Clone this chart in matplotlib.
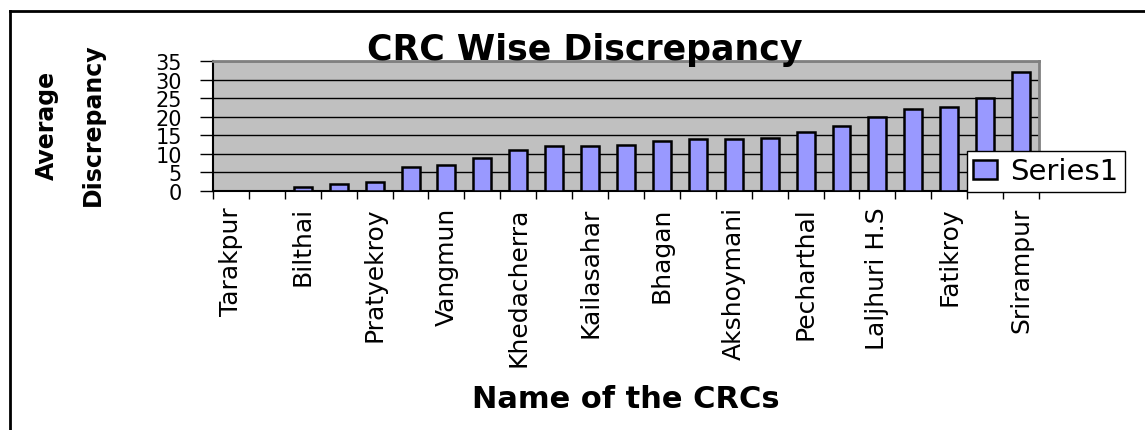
import matplotlib
matplotlib.use('Agg')
import matplotlib.pyplot as plt
from matplotlib.lines import Line2D
import numpy as np

# CRC names as printed under the bars (only every other category is labelled)
crc_labels = ['Tarakpur', 'Bilthai', 'Pratyekroy', 'Vangmun', 'Khedacherra',
              'Kailasahar', 'Bhagan', 'Akshoymani', 'Pecharthal', 'Laljhuri H.S',
              'Fatikroy', 'Srirampur']
# average discrepancy for all 23 CRCs
discrepancy = [0, 0, 1, 2, 2.5, 6.5, 7, 9, 11, 12, 12, 12.4,
               13.5, 14, 14, 14.4, 16, 17.4, 20, 22, 22.5, 25, 32]
yticks = [0, 5, 10, 15, 20, 25, 30, 35]

plt.rcParams['font.family'] = ['DejaVu Sans']

W, H = 1145, 431
fig = plt.figure(figsize=(W / 100, H / 100), dpi=100)
fig.patch.set_facecolor('white')

ax = fig.add_axes([213 / W, 1 - 192 / H, (1039 - 213) / W, (192 - 62) / H])
ax.set_facecolor('#c0c0c0')

x = np.arange(len(discrepancy))
ax.bar(x, discrepancy, width=0.5, color='#9999ff', edgecolor='black',
       linewidth=1.8, label='Series1', zorder=3)

ax.set_xlim(-0.5, len(discrepancy) - 0.5)
ax.set_ylim(0, 35)
ax.set_yticks(yticks)
ax.set_yticklabels([str(v) for v in yticks], fontsize=15)
ax.set_xticks(x[::2])
ax.set_xticklabels(crc_labels, rotation=90, fontsize=18)
ax.set_xticks(np.arange(-0.5, len(discrepancy)), minor=True)

ax.tick_params(axis='x', which='major', length=0, pad=11)
ax.tick_params(axis='x', which='minor', length=6, width=1, direction='out')
ax.tick_params(axis='y', length=9.5, width=1, direction='out', pad=13)

ax.yaxis.grid(True, color='black', linewidth=1)
ax.set_axisbelow(True)

for s in ['left', 'bottom']:
    ax.spines[s].set_color('black')
    ax.spines[s].set_linewidth(1.5)
for s in ['top', 'right']:
    ax.spines[s].set_color('#808080')
    ax.spines[s].set_linewidth(2)

fig.text(585 / W, 1 - 50 / H, 'CRC Wise Discrepancy', fontsize=25,
         fontweight='bold', ha='center', va='center')
fig.text(626 / W, 1 - 400 / H, 'Name of the CRCs', fontsize=22,
         fontweight='bold', ha='center', va='center')
fig.text(70 / W, 1 - 125 / H, 'Average\nDiscrepancy', fontsize=17,
         fontweight='bold', rotation=90, ha='center', va='center',
         multialignment='center', linespacing=2.15)

leg = ax.legend(loc='upper left', bbox_to_anchor=(967 / W, 1 - 152 / H),
                bbox_transform=fig.transFigure, fontsize=21, frameon=True,
                fancybox=False, edgecolor='black', framealpha=1,
                borderpad=0.22, borderaxespad=0, handlelength=0.82,
                handleheight=0.62, handletextpad=0.45)
leg.get_frame().set_linewidth(1)

# outer chart border (left and top only)
fig.add_artist(Line2D([10 / W, 10 / W], [0, 1 - 12 / H], color='black',
                      linewidth=2, transform=fig.transFigure))
fig.add_artist(Line2D([10 / W, 1], [1 - 12 / H, 1 - 12 / H], color='black',
                      linewidth=2, transform=fig.transFigure))

fig.savefig('out.png', dpi=100)
